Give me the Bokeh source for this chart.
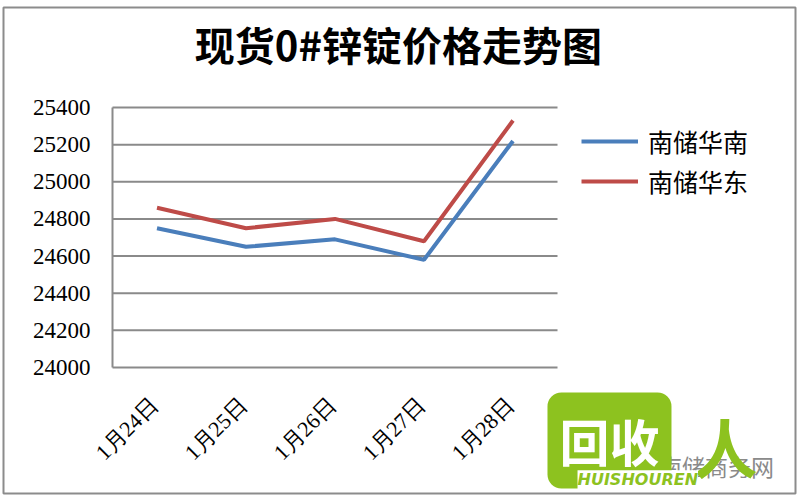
import math
from bokeh.plotting import figure
from bokeh.models import Range1d, Legend, LegendItem, Label, ColumnDataSource
from bokeh.embed import file_html
from bokeh.resources import INLINE

title_text = "现货0#锌锭价格走势图"
dates = ["1月24日", "1月25日", "1月26日", "1月27日", "1月28日"]
south_china = [24750, 24650, 24690, 24580, 25220]   # 南储华南
east_china = [24860, 24750, 24800, 24680, 25330]    # 南储华东
series_names = ["南储华南", "南储华东"]
y_ticks = [24000, 24200, 24400, 24600, 24800, 25000, 25200, 25400]

CJK = "Noto Sans CJK SC"
BLUE = "#4a7ebb"
RED = "#be4b48"
GRID = "#8a8a8a"

# category slots: one unit per category, centred at i + 0.5
xs = [i + 0.5 for i in range(len(dates))]
n = len(dates)

# one frame that covers the whole chart area (its outline is the chart border)
p = figure(width=798, height=498, x_range=Range1d(-1.2247, 7.674),
           y_range=Range1d(23321.5, 25938.5), output_backend="svg", toolbar_location=None,
           min_border_left=3, min_border_right=3, min_border_top=7, min_border_bottom=5)
p.axis.visible = False
p.grid.visible = False
p.background_fill_color = "white"
p.border_fill_color = "white"
p.outline_line_color = "#8c8c8c"
p.outline_line_width = 2

# gridlines and axis lines
p.segment(x0=0, x1=n, y0=y_ticks, y1=y_ticks, line_color=GRID, line_width=2)
p.segment(x0=[0], x1=[0], y0=[y_ticks[0]], y1=[y_ticks[-1]], line_color=GRID, line_width=2)

# y tick labels
p.text(x=0, y=y_ticks, text=[str(t) for t in y_ticks], x_offset=-22,
       text_align="right", text_baseline="middle", text_font_size="23px",
       text_font="DejaVu Sans", text_color="black")

# x tick labels (rotated)
p.text(x=xs, y=y_ticks[0], text=dates, angle=math.pi / 4, x_offset=-3, y_offset=34,
       text_align="right", text_baseline="middle", text_font_size="22px",
       text_font=CJK, text_color="black")

src = ColumnDataSource(dict(x=xs, a=south_china, b=east_china))
r1 = p.line("x", "a", source=src, line_color=BLUE, line_width=4)
r2 = p.line("x", "b", source=src, line_color=RED, line_width=4)

legend = Legend(items=[LegendItem(label=series_names[0], renderers=[r1]),
                       LegendItem(label=series_names[1], renderers=[r2])],
                location=(578, 294), orientation="vertical")
legend.margin = 0
legend.padding = 10
legend.glyph_width = 57
legend.glyph_height = 20
legend.label_height = 20
legend.spacing = 4
legend.label_standoff = 10
legend.label_text_font = CJK
legend.label_text_font_size = "25px"
legend.label_text_color = "black"
legend.border_line_color = None
legend.background_fill_alpha = 0
p.add_layout(legend, "center")

title = Label(x=3.213, y=25744, text=title_text,
              text_font=CJK, text_font_size="40px", text_font_style="bold",
              text_align="center", text_baseline="middle", text_color="black")
p.add_layout(title)

# watermark (decoration)
wm1 = Label(x=5.584, y=23607, text="回收",
            text_font=CJK, text_font_size="50px", text_font_style="bold",
            text_color="white", text_align="center", text_baseline="middle",
            background_fill_color="#8dc21f", padding=12, border_radius=14)
wm2 = Label(x=5.225, y=23345, text="HUISHOUREN",
            text_font="DejaVu Sans", text_font_size="16px", text_font_style="bold italic",
            text_color="#8dc21f", text_align="left", text_baseline="bottom",
            background_fill_color="white", padding=0)
wm3 = Label(x=6.787, y=23467, text="南储商务网",
            text_font=CJK, text_font_size="23px", text_color="#8a8a8a",
            text_align="center", text_baseline="middle")
wm4 = Label(x=6.888, y=23580, text="人",
            text_font=CJK, text_font_size="64px", text_font_style="bold",
            text_color="#8dc21f", text_align="center", text_baseline="middle")
for w in (wm3, wm1, wm4, wm2):
    p.add_layout(w)

open("out.html", "w").write(file_html(p, INLINE))
